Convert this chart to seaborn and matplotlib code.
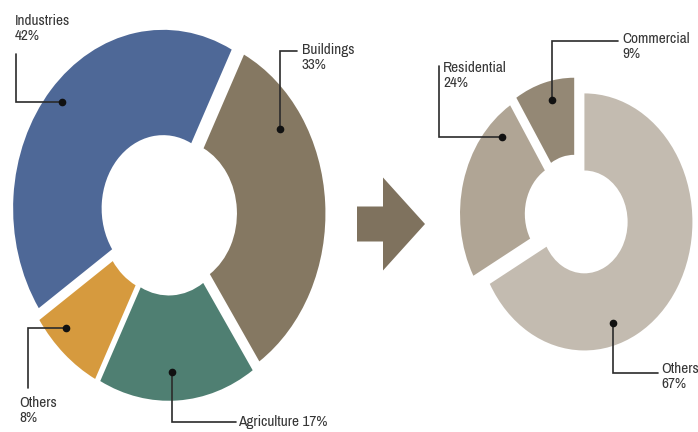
import matplotlib
matplotlib.use("Agg")
import matplotlib.pyplot as plt
import matplotlib.patches as mpatches
from matplotlib import font_manager
import numpy as np
import seaborn as sns

# Energy use by sector (left) and the split of the buildings sector (right)
sector_names = ["Industries", "Buildings", "Agriculture", "Others"]
sector_share = [42, 33, 17, 8]
sector_colors = ["#4e6897", "#857862", "#4f7f72", "#d69a3e"]

building_names = ["Commercial", "Residential", "Others"]
building_share = [9, 24, 67]
building_colors = ["#948875", "#b0a595", "#c3bbb0"]

sns.set_style("white")

# Prefer a narrow sans face for the callout labels
names = sorted({f.name for f in font_manager.fontManager.ttflist})
narrow = [n for n in names if "Narrow" in n or "Condensed" in n]
if narrow:
    LABEL_FAMILY, LABEL_SIZE = [narrow[0], "DejaVu Sans"], 11
else:
    LABEL_FAMILY, LABEL_SIZE = ["Liberation Sans", "DejaVu Sans"], 9.5
plt.rcParams["font.family"] = LABEL_FAMILY

W, H = 698, 432
S = 1.19          # vertical stretch of the drawing
INK = "#2b2b2b"


def to_data(px, py):
    """Pixel position (origin top-left) -> data coordinates."""
    return px, (H - py) / S


fig = plt.figure(figsize=(W / 100, H / 100), dpi=100)
ax = fig.add_axes([0, 0, 1, 1])


def donut(values, colors, center_px, radius, hole, explode, start, ccw):
    cx, cy = to_data(*center_px)
    wedges, _ = ax.pie(values, colors=colors, startangle=start,
                       counterclock=ccw, explode=[explode * radius] * len(values),
                       radius=radius, center=(cx, cy),
                       wedgeprops=dict(width=radius * (1 - hole), linewidth=0))
    return wedges


def callout(wedge, radius, frac, rfrac, text, first, X, Y, text_xy, va="top"):
    a = np.deg2rad(wedge.theta1 + frac * (wedge.theta2 - wedge.theta1))
    wx, wy = wedge.center
    dx = wx + rfrac * radius * np.cos(a)
    dy = wy + rfrac * radius * np.sin(a)
    Xd, Yd = to_data(X, Y)
    if first == "h":
        xs, ys = [dx, Xd, Xd], [dy, dy, Yd]
    else:
        xs, ys = [dx, dx, Xd], [dy, Yd, Yd]
    ax.plot(xs, ys, color=INK, lw=1.2, solid_joinstyle="miter")
    ax.plot([dx], [dy], "o", color="#111111", ms=4.5)
    tx, ty = to_data(*text_xy)
    ax.text(tx, ty, text, ha="left", va=va, fontsize=LABEL_SIZE, color="#363636",
            linespacing=1.12)


R1 = 150
left = donut(sector_share, sector_colors, (168.4, 213.9), R1, 0.41, 0.047, 214, False)
R2 = 108
right = donut(building_share, building_colors, (576.7, 216.5), R2, 0.40, 0.083, 90, True)

lab = lambda n, v: f"{n}\n{v}%"
callout(left[0], R1, 0.50, 0.90, lab(sector_names[0], sector_share[0]), "h", 16, 54, (15, 14))
callout(left[1], R1, 0.76, 0.84, lab(sector_names[1], sector_share[1]), "v", 297, 51, (302, 43))
callout(left[2], R1, 0.47, 0.84, f"{sector_names[2]} {sector_share[2]}%", "v", 236, 422, (238, 422), va="center")
callout(left[3], R1, 0.30, 0.89, lab(sector_names[3], sector_share[3]), "h", 28, 388, (19, 396))

callout(right[0], R2, 0.43, 0.85, lab(building_names[0], building_share[0]), "v", 618, 41, (622, 32))
callout(right[1], R2, 0.15, 0.855, lab(building_names[1], building_share[1]), "h", 439, 66, (443, 61))
callout(right[2], R2, 0.33, 0.83, lab(building_names[2], building_share[2]), "v", 658, 373, (661, 362))

# Transition arrow between the two donuts
ax0, ay0 = to_data(357, 224)
ax.add_patch(mpatches.FancyArrow(ax0, ay0, 68, 0, width=35 / S, head_width=93 / S,
                                 head_length=42, length_includes_head=True,
                                 color="#7f725e", linewidth=0))

ax.set_aspect("auto")
ax.set_xlim(0, W)
ax.set_ylim(0, H / S)
ax.axis("off")

fig.savefig("out.png", dpi=100, facecolor="white")
